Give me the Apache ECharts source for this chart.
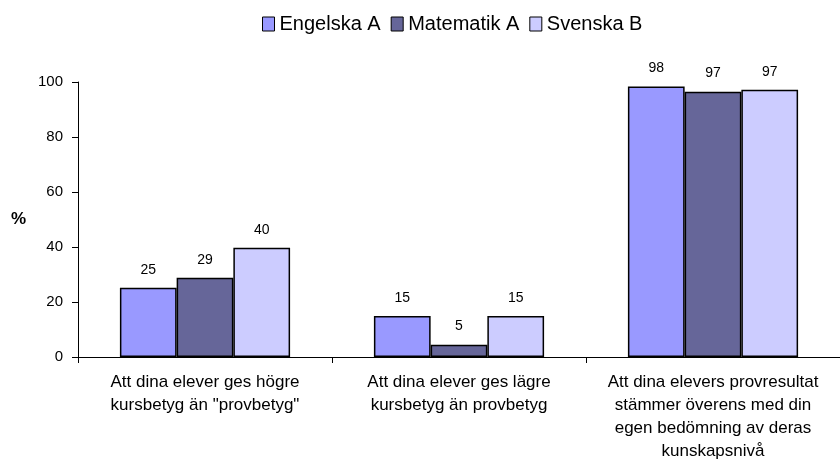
<!DOCTYPE html>
<html>
<head>
<meta charset="utf-8">
<script src="https://cdn.jsdelivr.net/npm/echarts@6/dist/echarts.min.js"></script>
<style>
  html, body { margin: 0; padding: 0; background: #fff; }
  #main { width: 840px; height: 464px; }
</style>
</head>
<body>
<div id="main"></div>
<script>
// categories
var categories = [
  'Att dina elever ges högre\nkursbetyg än "provbetyg"',
  'Att dina elever ges lägre\nkursbetyg än provbetyg',
  'Att dina elevers provresultat\nstämmer överens med din\negen bedömning av deras\nkunskapsnivå'
];
// series values (%), labels shown rounded
var engelska = [25.2, 14.9, 98.4];
var matematik = [28.8, 4.5, 96.5];
var svenska = [39.7, 14.9, 97.2];
var yTicks = [0, 20, 40, 60, 80, 100];

var chart = echarts.init(document.getElementById('main'));

function bar(name, data, color) {
  return {
    name: name,
    type: 'bar',
    data: data,
    barGap: '0%',
    barCategoryGap: '33%',
    itemStyle: { color: color, borderColor: '#000', borderWidth: 1.5 },
    label: {
      show: true,
      position: 'top',
      distance: 11,
      color: '#000',
      fontFamily: 'Liberation Sans',
      fontSize: 14,
      formatter: function (p) { return Math.round(p.value); }
    }
  };
}

chart.setOption({
  animation: false,
  textStyle: { fontFamily: 'Liberation Sans' },
  legend: {
    top: 9,
    left: 257,
    itemWidth: 12,
    itemHeight: 14,
    itemGap: 10,
    icon: 'rect',
    itemStyle: { borderColor: '#000', borderWidth: 1 },
    textStyle: { fontSize: 20, color: '#000', fontFamily: 'Liberation Sans' },
    data: ['Engelska A', 'Matematik A', 'Svenska B']
  },
  grid: { left: 78, right: 0, top: 82, bottom: 107, containLabel: false },
  xAxis: {
    type: 'category',
    data: categories,
    axisLine: { lineStyle: { color: '#000', width: 1 } },
    axisTick: { show: true, length: 6, lineStyle: { color: '#000' } },
    axisLabel: {
      color: '#000',
      fontSize: 17,
      lineHeight: 23,
      margin: 14,
      interval: 0,
      fontFamily: 'Liberation Sans'
    }
  },
  yAxis: {
    type: 'value',
    min: yTicks[0],
    max: yTicks[yTicks.length - 1],
    interval: 20,
    name: '%',
    nameLocation: 'middle',
    nameRotate: 0,
    nameGap: 52,
    nameTextStyle: { fontSize: 17, fontWeight: 'bold', color: '#000', fontFamily: 'Liberation Sans' },
    axisLine: { show: true, lineStyle: { color: '#000', width: 1 } },
    axisTick: { show: true, length: 6, lineStyle: { color: '#000' } },
    splitLine: { show: false },
    axisLabel: { color: '#000', fontSize: 15, margin: 15, fontFamily: 'Liberation Sans' }
  },
  series: [
    bar('Engelska A', engelska, '#9999ff'),
    bar('Matematik A', matematik, '#666699'),
    bar('Svenska B', svenska, '#ccccff')
  ]
});
</script>
</body>
</html>
